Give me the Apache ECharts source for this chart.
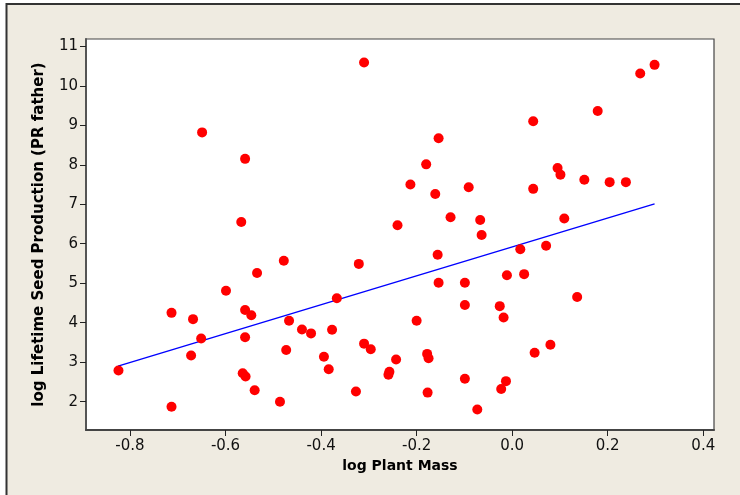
<!DOCTYPE html>
<html>
<head>
<meta charset="utf-8">
<style>
  html, body { margin: 0; padding: 0; background: #fff; }
  #chart { width: 740px; height: 495px; }
</style>
<script src="https://cdn.jsdelivr.net/npm/echarts@6/dist/echarts.min.js"></script>
</head>
<body>
<div id="chart"></div>
<script>
// log plant mass / log lifetime seed production
const plantMass = [
  -0.649, -0.559, -0.567,
  -0.310, -0.154, -0.180, -0.213, -0.161, -0.091, -0.129, -0.067, -0.240, -0.064,
  0.298, 0.268, 0.179, 0.044, 0.095, 0.101, 0.151, 0.204, 0.238, 0.044, 0.109,
  -0.478, -0.534, -0.599, -0.713, -0.668, -0.559, -0.546, -0.467, -0.440, -0.651,
  -0.559, -0.672, -0.473, -0.824, -0.564, -0.558, -0.539, -0.486, -0.713,
  -0.156, -0.321, -0.011, -0.367, -0.154, -0.099, -0.099, -0.026, -0.018, -0.200,
  -0.421, -0.377, -0.310, -0.296, -0.394, -0.384, -0.243, -0.257, -0.259, -0.178,
  -0.175, -0.327, -0.177, -0.099, -0.073, -0.013, -0.023,
  0.017, 0.071, 0.025, 0.136, 0.080, 0.047
]
const seedProd = [
  8.82, 8.15, 6.55,
  10.59, 8.67, 8.01, 7.50, 7.26, 7.43, 6.67, 6.60, 6.47, 6.22,
  10.53, 10.31, 9.36, 9.10, 7.92, 7.75, 7.62, 7.56, 7.56, 7.39, 6.64,
  5.57, 5.26, 4.81, 4.25, 4.09, 4.32, 4.19, 4.05, 3.83, 3.60,
  3.63, 3.17, 3.31, 2.79, 2.72, 2.64, 2.29, 2.00, 1.87,
  5.72, 5.49, 5.20, 4.62, 5.01, 5.01, 4.45, 4.42, 4.13, 4.05,
  3.73, 3.82, 3.47, 3.33, 3.14, 2.82, 3.07, 2.76, 2.68, 3.21,
  3.10, 2.26, 2.23, 2.58, 1.80, 2.52, 2.32,
  5.86, 5.95, 5.23, 4.65, 3.44, 3.24
]
// fitted line end points
const fitX = [-0.825, 0.298]
const fitY = [2.90, 7.01]

const xTicks = [-0.8, -0.6, -0.4, -0.2, 0.0, 0.2, 0.4]
const yTicks = [2, 3, 4, 5, 6, 7, 8, 9, 10, 11]

const points = plantMass.map((x, i) => [x, seedProd[i]])
const fitLine = fitX.map((x, i) => [x, fitY[i]])

const chart = echarts.init(document.getElementById('chart'))

const font = 'DejaVu Sans, Verdana, sans-serif'

chart.setOption({
  backgroundColor: '#fff',
  animation: false,
  graphic: [
    {
      type: 'rect',
      z: -10,
      shape: { x: 6, y: 3, width: 760, height: 520 },
      style: { fill: '#efebe1' }
    },
    {
      type: 'polyline',
      z: -9,
      shape: { points: [[6.5, 520], [6.5, 4], [760, 4]] },
      style: { fill: null, stroke: '#333', lineWidth: 2 }
    }
  ],
  grid: {
    left: 86, top: 39, right: 26, bottom: 65,
    show: true,
    backgroundColor: '#fff',
    borderColor: '#444',
    borderWidth: 1.2
  },
  xAxis: {
    type: 'value',
    min: -0.892,
    max: 0.4224,
    name: 'log Plant Mass',
    nameLocation: 'middle',
    nameGap: 29,
    nameTextStyle: { fontFamily: font, fontWeight: 'bold', fontSize: 14, color: '#000' },
    splitLine: { show: false },
    axisLine: { onZero: false, lineStyle: { color: '#444', width: 2 } },
    axisTick: { show: true, length: 6, lineStyle: { color: '#222', width: 1 },
      customValues: xTicks },
    axisLabel: {
      fontFamily: font, fontSize: 15, color: '#111', margin: 9,
      customValues: xTicks,
      formatter: v => v.toFixed(1)
    }
  },
  yAxis: {
    type: 'value',
    min: 1.283,
    max: 11.185,
    name: 'log Lifetime Seed Production (PR father)',
    nameLocation: 'middle',
    nameGap: 39,
    nameTextStyle: { fontFamily: font, fontWeight: 'bold', fontSize: 15, color: '#000' },
    splitLine: { show: false },
    axisLine: { onZero: false, lineStyle: { color: '#555', width: 2 } },
    axisTick: { show: true, length: 6, lineStyle: { color: '#222', width: 1 },
      customValues: yTicks },
    axisLabel: {
      fontFamily: font, fontSize: 15, color: '#111', margin: 8,
      customValues: yTicks,
      formatter: v => String(Math.round(v))
    }
  },
  series: [
    {
      type: 'line',
      data: fitLine,
      symbol: 'none',
      lineStyle: { color: '#0000ff', width: 1.4 },
      z: 2
    },
    {
      type: 'scatter',
      data: points,
      symbol: 'circle',
      symbolSize: 10,
      itemStyle: { color: '#ff0000', opacity: 1 },
      z: 3
    }
  ]
})
</script>
</body>
</html>
